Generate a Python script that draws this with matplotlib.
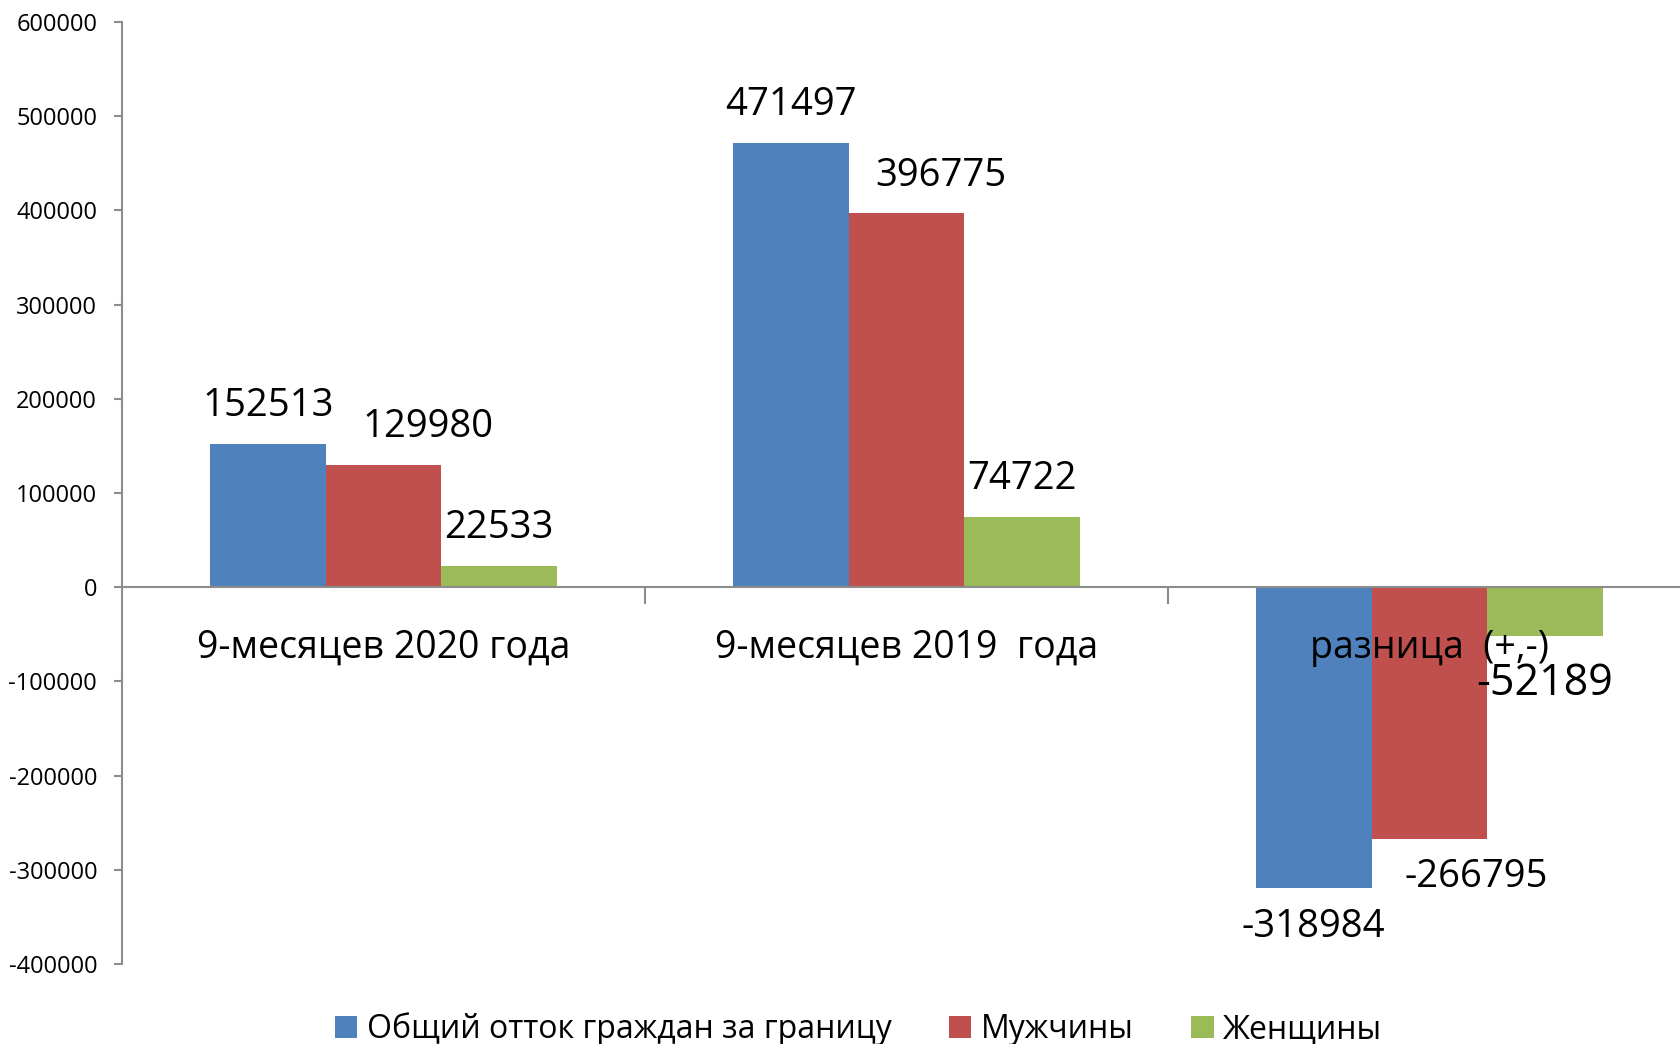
import matplotlib
matplotlib.use('Agg')
import matplotlib.pyplot as plt
import numpy as np

plt.rcParams['font.family'] = ['Open Sans', 'DejaVu Sans']

categories = ['9-месяцев 2020 года', '9-месяцев 2019  года', 'разница  (+,-)']
series_names = ['Общий отток граждан за границу', 'Мужчины', 'Женщины']
total = [152513, 471497, -318984]
men = [129980, 396775, -266795]
women = [22533, 74722, -52189]
colors = ['#4F81BD', '#C0504D', '#9BBB59']

# label offsets (points) and sizes per series / category, as placed in the original
label_dx = [[0, 0, 0], [32, 25, 34], [0, 0, 0]]
label_dy = [[27, 27, -28], [27, 27, -28], [27, 27, -34]]
label_fs = [[27.5, 27.5, 27.5], [27.5, 27.5, 27.5], [27.5, 27.5, 31]]

fig = plt.figure(figsize=(16.8, 10.44), dpi=100)
ax = fig.add_axes([0.0727, 0.0766, 0.9337, 0.9024])

x = np.arange(len(categories))
w = 0.221
for k, vals in enumerate([total, men, women]):
    xs = x + (k - 1) * w
    ax.bar(xs, vals, w, color=colors[k], label=series_names[k], zorder=2)
    for i, v in enumerate(vals):
        ax.annotate(str(v), (xs[i], v), xytext=(label_dx[k][i], label_dy[k][i]),
                    textcoords='offset points', ha='center', va='center',
                    fontsize=label_fs[k][i], zorder=3)

ax.set_xlim(-0.5, 2.5)
ax.set_ylim(-400000, 600000)
ax.set_yticks(np.arange(-400000, 600001, 100000))
ax.set_yticklabels([str(v) for v in range(-400000, 600001, 100000)], fontsize=17)

ax.spines['bottom'].set_position(('data', 0))
for s in ['top', 'right']:
    ax.spines[s].set_visible(False)
for s in ['left', 'bottom']:
    ax.spines[s].set_color('#8c8c8c')
    ax.spines[s].set_linewidth(1.5)
ax.spines['bottom'].set_zorder(4)

ax.set_xticks([0.5, 1.5])
ax.set_xticklabels([])
ax.tick_params(axis='x', length=12, color='#8c8c8c', width=1.5)
ax.tick_params(axis='y', length=6, color='#8c8c8c', width=1.5, pad=12)

for i, c in enumerate(categories):
    ax.annotate(c, (i, 0), xytext=(0, -30), textcoords='offset points',
                ha='center', va='top', fontsize=27, zorder=5)

fig.legend(loc='center', bbox_to_anchor=(0.511, 0.014), ncol=3, frameon=False,
           fontsize=23, handlelength=0.7, handleheight=0.7, handletextpad=0.3,
           columnspacing=1.8)

fig.savefig('out.png', dpi=100)
